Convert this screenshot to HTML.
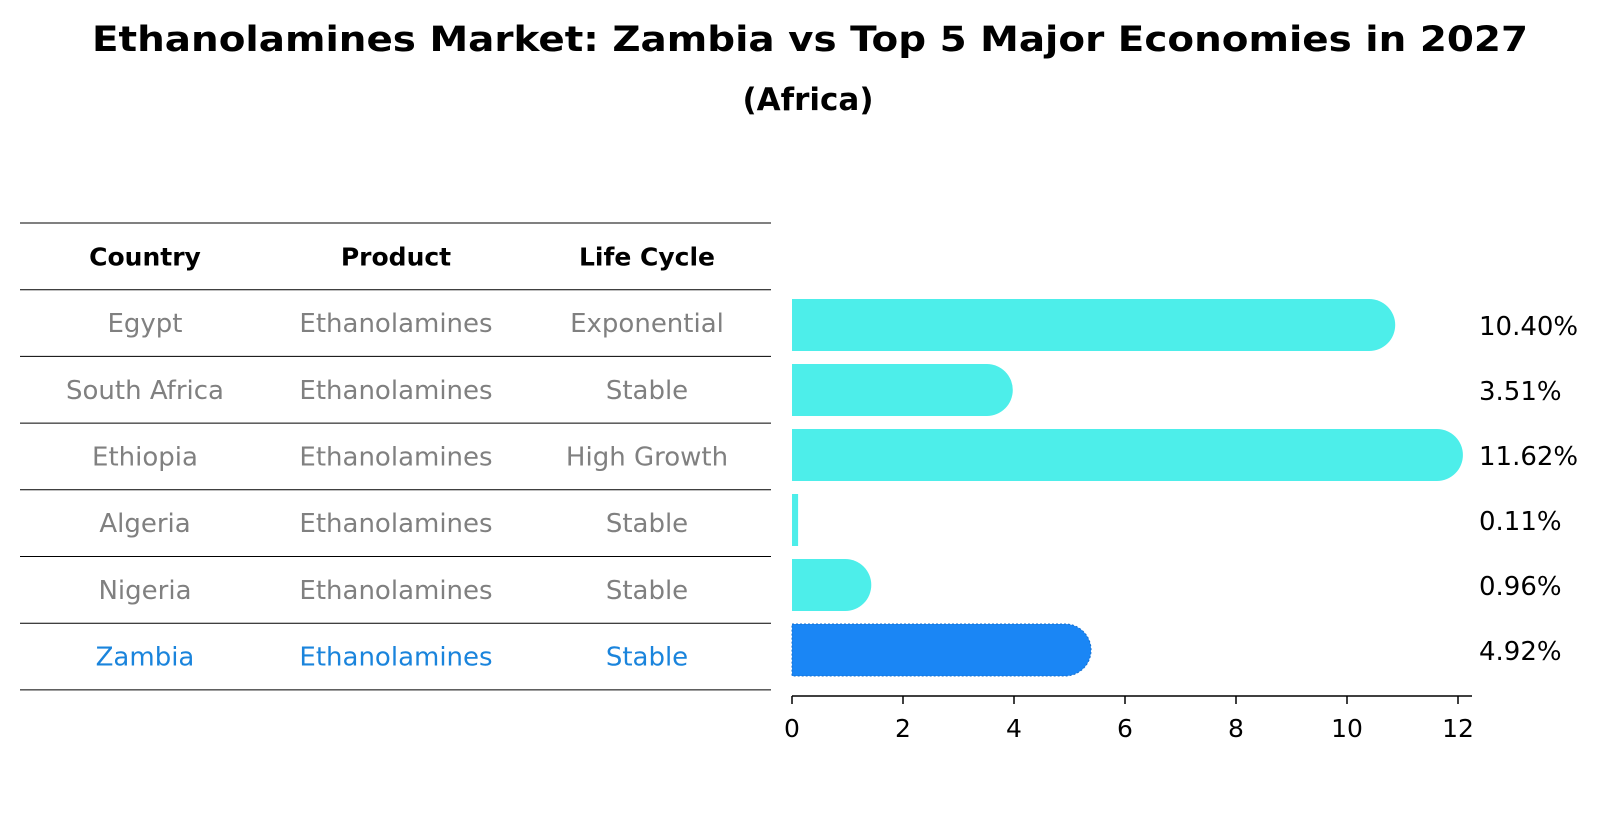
<!DOCTYPE html>
<html><head><meta charset="utf-8"><style>
html,body{margin:0;padding:0;background:#fff;}
svg{display:block;font-family:"DejaVu Sans","Liberation Sans",sans-serif;}
</style></head><body>
<svg id="chart" width="1604" height="823" viewBox="0 0 1604 823">
<text x="810" y="51" text-anchor="middle" font-size="35" font-weight="bold" textLength="1436" lengthAdjust="spacingAndGlyphs">Ethanolamines Market: Zambia vs Top 5 Major Economies in 2027</text>
<text x="808" y="110" text-anchor="middle" font-size="31" font-weight="bold">(Africa)</text>
<g id="table"></g>
<g id="bars"></g>
</svg>
<script>
const countries=["Egypt","South Africa","Ethiopia","Algeria","Nigeria","Zambia"];
const products=["Ethanolamines","Ethanolamines","Ethanolamines","Ethanolamines","Ethanolamines","Ethanolamines"];
const lifeCycles=["Exponential","Stable","High Growth","Stable","Stable","Stable"];
const values=[10.40,3.51,11.62,0.11,0.96,4.92];
const valueLabels=["10.40%","3.51%","11.62%","0.11%","0.96%","4.92%"];
const xTicks=[0,2,4,6,8,10,12];
const NS="http://www.w3.org/2000/svg";
function mk(tag,attrs,parent){const e=document.createElementNS(NS,tag);for(const k in attrs)e.setAttribute(k,attrs[k]);parent.appendChild(e);return e;}
const table=document.getElementById('table');
const bars=document.getElementById('bars');
const x0=792,pxPerUnit=55.5;
function xs(v){return x0+v*pxPerUnit;}
const rowTop=223,rowH=66.7;
function ys(i){return 325+i*65;}
const colX=[145,396,647];
for(let i=0;i<=countries.length+1;i++){
  const y=rowTop+i*rowH;
  const l=mk('line',{x1:20,x2:771,y1:y,y2:y,stroke:'#000','stroke-width':1},table);
  
  
}
const heads=["Country","Product","Life Cycle"];
heads.forEach((h,j)=>{
  const t=mk('text',{x:colX[j],y:rowTop+rowH/2+9,'text-anchor':'middle','font-size':25,'font-weight':'bold'},table);
  t.textContent=h;
  
  
});
countries.forEach((c,i)=>{
  const hi=c==="Zambia";
  const cy=rowTop+(i+1.5)*rowH+9;
  [c,products[i],lifeCycles[i]].forEach((v,j)=>{
    const t=mk('text',{x:colX[j],y:cy,'text-anchor':'middle','font-size':26,fill:hi?'#1a84dc':'#808080'},table);
    t.textContent=v;
    
    
  });
  const cyb=ys(i),h=52,r=26;
  const col=hi?'#1a86f5':'#4deeea';
  const w=xs(values[i])-x0;
  let d;
  if(values[i]>=0.5){
    d=`M${x0},${cyb-h/2} H${x0+w} A${r},${r} 0 0 1 ${x0+w},${cyb+h/2} H${x0} Z`;
  } else {
    d=`M${x0},${cyb-h/2} H${x0+w} V${cyb+h/2} H${x0} Z`;
  }
  const p=mk('path',{d:d,fill:col},bars);
  if(hi){p.setAttribute('stroke','#1670d0');p.setAttribute('stroke-dasharray','2 2');p.setAttribute('stroke-width','1');}
  
  
  const lt=mk('text',{x:1479,y:cyb+10,'font-size':26,fill:'#000'},bars);
  lt.textContent=valueLabels[i];
  
  
});
const ax=mk('line',{x1:x0,x2:1472,y1:696,y2:696,stroke:'#000','stroke-width':1.5},bars);


xTicks.forEach(t=>{
  const tk=mk('line',{x1:xs(t),x2:xs(t),y1:696,y2:704,stroke:'#000','stroke-width':1.5},bars);
  
  
  const tl=mk('text',{x:xs(t),y:737,'text-anchor':'middle','font-size':25},bars);
  tl.textContent=t;
  
  
});
</script>
</body></html>
